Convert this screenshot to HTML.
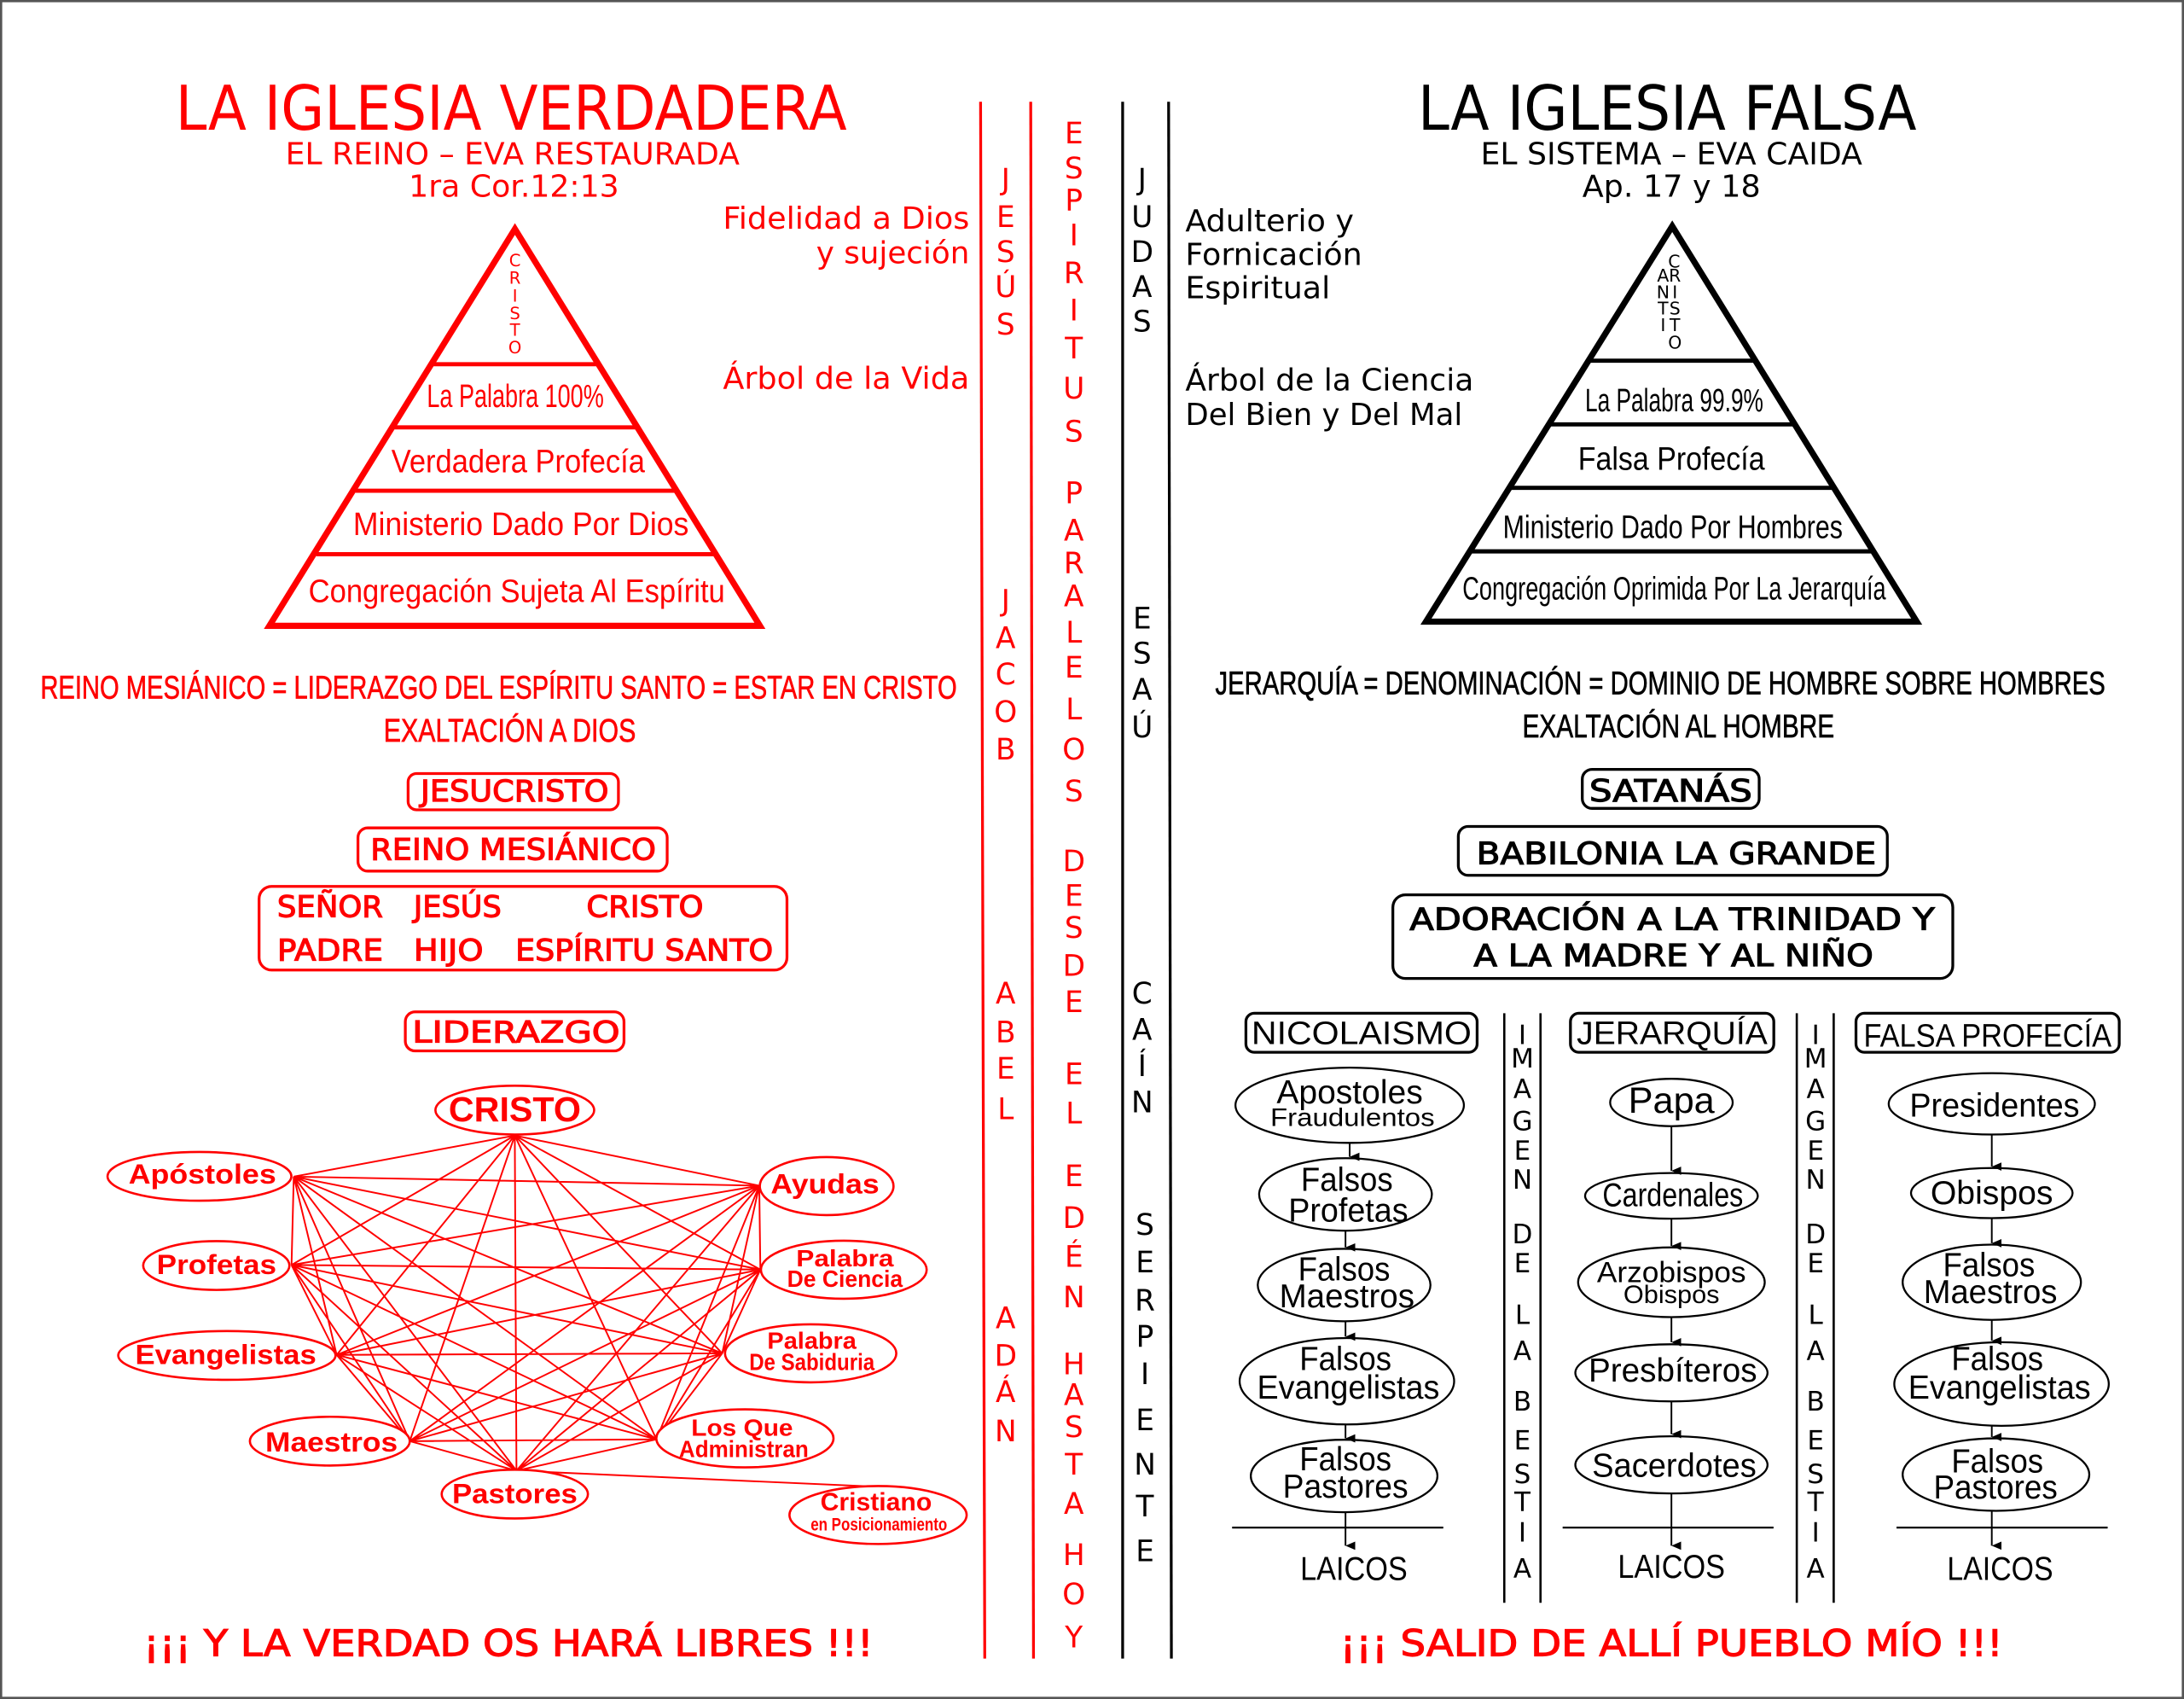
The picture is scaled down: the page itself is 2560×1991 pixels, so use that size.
<!DOCTYPE html>
<html><head><meta charset="utf-8"><style>
html,body{margin:0;padding:0;background:#fff;}
svg{display:block;}
.d{font-family:"DejaVu Sans","Liberation Sans",sans-serif;}
.n{font-family:"Liberation Sans Narrow","Liberation Sans",sans-serif;}
.r{fill:#f00;}
.k{fill:#000;}
.sr{stroke:#f00;stroke-width:0.7;}
.sk{stroke:#000;stroke-width:0.7;}
</style></head><body>
<svg width="2560" height="1991" viewBox="0 0 1568 1219" preserveAspectRatio="none" xmlns="http://www.w3.org/2000/svg">
<defs>
<marker id="ah" markerWidth="8" markerHeight="8" refX="4" refY="7" orient="auto" markerUnits="userSpaceOnUse">
<path d="M1,0 L4,7 L7,0 Z" fill="#000"/>
</marker>
</defs>
<rect x="0" y="0" width="1568" height="1219" fill="#fff"/>
<rect x="0.8" y="0.8" width="1566.4" height="1217.4" fill="none" stroke="#555" stroke-width="1.6"/>

<!-- Titles -->
<text class="d r" x="367" y="93" font-size="44" text-anchor="middle" textLength="482" lengthAdjust="spacingAndGlyphs">LA IGLESIA VERDADERA</text>
<text class="d r" x="368" y="118" font-size="22" text-anchor="middle" textLength="326" lengthAdjust="spacingAndGlyphs">EL REINO – EVA RESTAURADA</text>
<text class="d r" x="369" y="141" font-size="22" text-anchor="middle" textLength="151" lengthAdjust="spacingAndGlyphs">1ra Cor.12:13</text>
<text class="d r" x="696" y="164" font-size="22" text-anchor="end" textLength="177" lengthAdjust="spacingAndGlyphs">Fidelidad a Dios</text>
<text class="d r" x="696" y="189" font-size="22" text-anchor="end" textLength="110" lengthAdjust="spacingAndGlyphs">y sujeción</text>
<text class="d r" x="696" y="279" font-size="22" text-anchor="end" textLength="177" lengthAdjust="spacingAndGlyphs">Árbol de la Vida</text>

<text class="d k" x="1197" y="93" font-size="44" text-anchor="middle" textLength="358" lengthAdjust="spacingAndGlyphs">LA IGLESIA FALSA</text>
<text class="d k" x="1200" y="118" font-size="22" text-anchor="middle" textLength="274" lengthAdjust="spacingAndGlyphs">EL SISTEMA – EVA CAIDA</text>
<text class="d k" x="1200" y="141" font-size="22" text-anchor="middle" textLength="128" lengthAdjust="spacingAndGlyphs">Ap. 17 y 18</text>
<text class="d k" x="851" y="166" font-size="22" textLength="121" lengthAdjust="spacingAndGlyphs">Adulterio y</text>
<text class="d k" x="851" y="190" font-size="22" textLength="127" lengthAdjust="spacingAndGlyphs">Fornicación</text>
<text class="d k" x="851" y="214" font-size="22" textLength="104" lengthAdjust="spacingAndGlyphs">Espiritual</text>
<text class="d k" x="851" y="280" font-size="22" textLength="207" lengthAdjust="spacingAndGlyphs">Árbol de la Ciencia</text>
<text class="d k" x="851" y="305" font-size="22" textLength="199" lengthAdjust="spacingAndGlyphs">Del Bien y Del Mal</text>

<!-- Left pyramid -->
<g stroke="#f00" fill="none">
<polygon points="369.7,164.3 545.6,449 193.4,449" stroke-width="4.4" stroke-linejoin="miter"/>
<line x1="311.3" y1="261.3" x2="428.1" y2="261.3" stroke-width="3"/>
<line x1="283.3" y1="306.6" x2="456.1" y2="306.6" stroke-width="3"/>
<line x1="255.2" y1="352.1" x2="484.2" y2="352.1" stroke-width="3"/>
<line x1="227.1" y1="397.6" x2="512.3" y2="397.6" stroke-width="3"/>
</g>
<g class="d r" font-size="12" text-anchor="middle">
<text x="369.7" y="191">C</text><text x="369.7" y="203.5">R</text><text x="369.7" y="216.5">I</text><text x="369.7" y="229">S</text><text x="369.7" y="241">T</text><text x="369.7" y="253.5">O</text>
</g>
<g class="n r" font-size="23" text-anchor="middle">
<text x="370" y="292" textLength="127" lengthAdjust="spacingAndGlyphs">La Palabra 100%</text>
<text x="372" y="339" textLength="182" lengthAdjust="spacingAndGlyphs">Verdadera Profecía</text>
<text x="374" y="384" textLength="241" lengthAdjust="spacingAndGlyphs">Ministerio Dado Por Dios</text>
<text x="371" y="432" textLength="299" lengthAdjust="spacingAndGlyphs">Congregación Sujeta Al Espíritu</text>
</g>

<!-- Right pyramid -->
<g stroke="#000" fill="none">
<polygon points="1200.6,162.3 1376.1,446 1023.8,446" stroke-width="4.4"/>
<line x1="1140.7" y1="258.8" x2="1260.1" y2="258.8" stroke-width="3"/>
<line x1="1112.5" y1="304.5" x2="1288.5" y2="304.5" stroke-width="3"/>
<line x1="1084.3" y1="350" x2="1316.7" y2="350" stroke-width="3"/>
<line x1="1056.2" y1="395.6" x2="1344.9" y2="395.6" stroke-width="3"/>
</g>
<g class="d k" font-size="12.5" text-anchor="middle">
<text x="1202" y="192">C</text>
<text x="1194" y="202">A</text><text x="1202.5" y="202">R</text>
<text x="1194" y="214">N</text><text x="1202.5" y="214">I</text>
<text x="1194" y="225.5">T</text><text x="1202.5" y="225.5">S</text>
<text x="1194" y="237.5">I</text><text x="1202.5" y="237.5">T</text>
<text x="1202.5" y="250">O</text>
</g>
<g class="n k" font-size="23" text-anchor="middle">
<text x="1202" y="295" textLength="128" lengthAdjust="spacingAndGlyphs">La Palabra 99.9%</text>
<text x="1200" y="337" textLength="134" lengthAdjust="spacingAndGlyphs">Falsa Profecía</text>
<text x="1201" y="386" textLength="244" lengthAdjust="spacingAndGlyphs">Ministerio Dado Por Hombres</text>
<text x="1202" y="430" textLength="304" lengthAdjust="spacingAndGlyphs">Congregación Oprimida Por La Jerarquía</text>
</g>

<!-- Statements -->
<text class="n r sr" x="358" y="501" font-size="23" text-anchor="middle" style="stroke-width:0.4" textLength="658" lengthAdjust="spacingAndGlyphs">REINO MESIÁNICO = LIDERAZGO DEL ESPÍRITU SANTO = ESTAR EN CRISTO</text>
<text class="n r sr" x="366" y="532" font-size="23" text-anchor="middle" style="stroke-width:0.4" textLength="181" lengthAdjust="spacingAndGlyphs">EXALTACIÓN A DIOS</text>
<text class="n k sk" x="1192" y="498" font-size="23" text-anchor="middle" style="stroke-width:0.4" textLength="639" lengthAdjust="spacingAndGlyphs">JERARQUÍA = DENOMINACIÓN = DOMINIO DE HOMBRE SOBRE HOMBRES</text>
<text class="n k sk" x="1205" y="529" font-size="23" text-anchor="middle" style="stroke-width:0.4" textLength="224" lengthAdjust="spacingAndGlyphs">EXALTACIÓN AL HOMBRE</text>

<!-- Left boxes -->
<g fill="none" stroke="#f00" stroke-width="2">
<rect x="293" y="555" width="151" height="26" rx="6"/>
<rect x="257" y="594" width="222" height="31" rx="7"/>
<rect x="186" y="636" width="379" height="60" rx="9"/>
<rect x="291" y="726" width="157" height="28" rx="7"/>
</g>
<g class="d r sr" font-size="21">
<text x="302" y="575" textLength="135" lengthAdjust="spacingAndGlyphs">JESUCRISTO</text>
<text x="266" y="617" textLength="205" lengthAdjust="spacingAndGlyphs">REINO MESIÁNICO</text>
<text x="199" y="658" textLength="76" lengthAdjust="spacingAndGlyphs">SEÑOR</text>
<text x="297" y="658" textLength="63" lengthAdjust="spacingAndGlyphs">JESÚS</text>
<text x="421" y="658" textLength="84" lengthAdjust="spacingAndGlyphs">CRISTO</text>
<text x="199" y="689" textLength="76" lengthAdjust="spacingAndGlyphs">PADRE</text>
<text x="297" y="689" textLength="50" lengthAdjust="spacingAndGlyphs">HIJO</text>
<text x="370" y="689" textLength="185" lengthAdjust="spacingAndGlyphs">ESPÍRITU SANTO</text>
<text x="296" y="748" textLength="149" lengthAdjust="spacingAndGlyphs">LIDERAZGO</text>
</g>

<!-- Right boxes -->
<g fill="none" stroke="#000" stroke-width="2">
<rect x="1136" y="552" width="127" height="28" rx="7"/>
<rect x="1047" y="593" width="308" height="35" rx="7"/>
<rect x="1000" y="642" width="402" height="60" rx="9"/>
</g>
<g class="d k sk" font-size="22">
<text x="1141" y="575" textLength="117" lengthAdjust="spacingAndGlyphs">SATANÁS</text>
<text x="1060" y="620" textLength="287" lengthAdjust="spacingAndGlyphs">BABILONIA LA GRANDE</text>
<text x="1012" y="667" textLength="377" lengthAdjust="spacingAndGlyphs">ADORACIÓN A LA TRINIDAD Y</text>
<text x="1058" y="693" textLength="287" lengthAdjust="spacingAndGlyphs">A LA MADRE Y AL NIÑO</text>
</g>

<!-- Center vertical lines -->
<g stroke-width="2">
<line x1="704" y1="73" x2="707" y2="1190" stroke="#f00"/>
<line x1="740" y1="73" x2="742" y2="1190" stroke="#f00"/>
<line x1="806" y1="73" x2="806" y2="1190" stroke="#000"/>
<line x1="839" y1="73" x2="841" y2="1190" stroke="#000"/>
</g>
<g class="d r" font-size="21" text-anchor="middle">
<text x="722" y="136">J</text><text x="722" y="163">E</text><text x="722" y="188">S</text><text x="722" y="213">Ú</text><text x="722" y="240">S</text>
<text x="722" y="438">J</text><text x="722" y="465">A</text><text x="722" y="491">C</text><text x="722" y="518">O</text><text x="722" y="545">B</text>
<text x="722" y="720">A</text><text x="722" y="748">B</text><text x="722" y="774">E</text><text x="722" y="803">L</text>
<text x="722" y="953">A</text><text x="722" y="980">D</text><text x="722" y="1006">Á</text><text x="722" y="1034">N</text>
</g>
<g class="d r" font-size="21" text-anchor="middle">
<text x="771" y="103">E</text><text x="771" y="128">S</text><text x="771" y="151">P</text><text x="771" y="176">I</text><text x="771" y="203">R</text><text x="771" y="230">I</text><text x="771" y="257">T</text><text x="771" y="286">U</text><text x="771" y="317">S</text>
<text x="771" y="361">P</text><text x="771" y="388">A</text><text x="771" y="411">R</text><text x="771" y="435">A</text><text x="771" y="461">L</text><text x="771" y="486">E</text><text x="771" y="516">L</text><text x="771" y="545">O</text><text x="771" y="575">S</text>
<text x="771" y="625">D</text><text x="771" y="650">E</text><text x="771" y="673">S</text><text x="771" y="700">D</text><text x="771" y="726">E</text>
<text x="771" y="778">E</text><text x="771" y="806">L</text>
<text x="771" y="851">E</text><text x="771" y="881">D</text><text x="771" y="909">É</text><text x="771" y="938">N</text>
<text x="771" y="986">H</text><text x="771" y="1008">A</text><text x="771" y="1031">S</text><text x="771" y="1058">T</text><text x="771" y="1086">A</text>
<text x="771" y="1123">H</text><text x="771" y="1151">O</text><text x="771" y="1182">Y</text>
</g>
<g class="d k" font-size="21" text-anchor="middle">
<text x="820" y="136">J</text><text x="820" y="163">U</text><text x="820" y="188">D</text><text x="820" y="213">A</text><text x="820" y="238">S</text>
<text x="820" y="451">E</text><text x="820" y="476">S</text><text x="820" y="502">A</text><text x="820" y="529">Ú</text>
<text x="820" y="720">C</text><text x="820" y="746">A</text><text x="820" y="772">Í</text><text x="820" y="798">N</text>
<text x="822" y="886">S</text><text x="822" y="913">E</text><text x="822" y="940">R</text><text x="822" y="966">P</text><text x="822" y="993">I</text><text x="822" y="1026">E</text><text x="822" y="1058">N</text><text x="822" y="1088">T</text><text x="822" y="1120">E</text>
</g>

<!-- Network lines -->
<g stroke="#f00" stroke-width="1.2" fill="none">
<path d="M369.6,814.7L210.9,844.2M369.6,814.7L545.1,850.7M369.6,814.7L209.3,907.6M369.6,814.7L545.9,910.9M369.6,814.7L241.7,972.1M369.6,814.7L518.5,971M369.6,814.7L294.2,1034M369.6,814.7L471.3,1032.7M369.6,814.7L370.8,1055.2
M210.9,844.2L545.1,850.7M210.9,844.2L209.3,907.6M210.9,844.2L545.9,910.9M210.9,844.2L241.7,972.1M210.9,844.2L518.5,971M210.9,844.2L294.2,1034M210.9,844.2L471.3,1032.7M210.9,844.2L370.8,1055.2
M545.1,850.7L209.3,907.6M545.1,850.7L545.9,910.9M545.1,850.7L241.7,972.1M545.1,850.7L518.5,971M545.1,850.7L294.2,1034M545.1,850.7L471.3,1032.7M545.1,850.7L370.8,1055.2
M209.3,907.6L545.9,910.9M209.3,907.6L241.7,972.1M209.3,907.6L518.5,971M209.3,907.6L294.2,1034M209.3,907.6L471.3,1032.7M209.3,907.6L370.8,1055.2
M545.9,910.9L241.7,972.1M545.9,910.9L518.5,971M545.9,910.9L294.2,1034M545.9,910.9L471.3,1032.7M545.9,910.9L370.8,1055.2
M241.7,972.1L518.5,971M241.7,972.1L294.2,1034M241.7,972.1L471.3,1032.7M241.7,972.1L370.8,1055.2
M518.5,971L294.2,1034M518.5,971L471.3,1032.7M518.5,971L370.8,1055.2
M294.2,1034L471.3,1032.7M294.2,1034L370.8,1055.2M471.3,1032.7L370.8,1055.2
M370.8,1055.2L643.5,1067.3"/>
</g>
<g stroke="#f00" stroke-width="1.6" fill="#fff">
<ellipse cx="369.6" cy="796.5" rx="57" ry="17.5"/>
<ellipse cx="143.2" cy="844" rx="66" ry="17.5"/>
<ellipse cx="593.5" cy="851" rx="48" ry="20.8"/>
<ellipse cx="155.3" cy="908" rx="52.5" ry="17.5"/>
<ellipse cx="605.8" cy="911" rx="59.5" ry="20.8"/>
<ellipse cx="162.9" cy="972.5" rx="78" ry="17.5"/>
<ellipse cx="582" cy="971" rx="61.5" ry="20.8"/>
<ellipse cx="236.8" cy="1034" rx="57.4" ry="17.5"/>
<ellipse cx="534.8" cy="1032" rx="63.6" ry="20.8"/>
<ellipse cx="369.6" cy="1072" rx="52.5" ry="17.5"/>
<ellipse cx="630.4" cy="1087" rx="63.6" ry="20.8"/>
</g>
<g class="n r" font-weight="bold" text-anchor="middle">
<text x="369.6" y="804.4" font-size="25" textLength="95" lengthAdjust="spacingAndGlyphs">CRISTO</text>
<text x="145.3" y="849.2" font-size="20" textLength="106" lengthAdjust="spacingAndGlyphs">Apóstoles</text>
<text x="592.3" y="856.2" font-size="20" textLength="78" lengthAdjust="spacingAndGlyphs">Ayudas</text>
<text x="155.5" y="914.2" font-size="20" textLength="86" lengthAdjust="spacingAndGlyphs">Profetas</text>
<text x="606.6" y="908.7" font-size="17" textLength="70" lengthAdjust="spacingAndGlyphs">Palabra</text>
<text x="606.6" y="923.2" font-size="17" textLength="83" lengthAdjust="spacingAndGlyphs">De Ciencia</text>
<text x="162.1" y="978.7" font-size="20" textLength="130" lengthAdjust="spacingAndGlyphs">Evangelistas</text>
<text x="582.9" y="967.7" font-size="17" textLength="64" lengthAdjust="spacingAndGlyphs">Palabra</text>
<text x="582.9" y="983" font-size="17" textLength="90" lengthAdjust="spacingAndGlyphs">De Sabiduria</text>
<text x="238" y="1041.4" font-size="20" textLength="95" lengthAdjust="spacingAndGlyphs">Maestros</text>
<text x="532.8" y="1030" font-size="17" textLength="73" lengthAdjust="spacingAndGlyphs">Los Que</text>
<text x="534" y="1045.4" font-size="17" textLength="93" lengthAdjust="spacingAndGlyphs">Administran</text>
<text x="369.6" y="1078.6" font-size="20" textLength="90" lengthAdjust="spacingAndGlyphs">Pastores</text>
<text x="629" y="1083.7" font-size="18" textLength="80" lengthAdjust="spacingAndGlyphs">Cristiano</text>
<text x="631" y="1098" font-size="13" textLength="98" lengthAdjust="spacingAndGlyphs">en Posicionamiento</text>
</g>

<!-- Right columns headers -->
<g fill="none" stroke="#000" stroke-width="2">
<rect x="894.5" y="727" width="166" height="28" rx="6"/>
<rect x="1127.5" y="727" width="146" height="28" rx="6"/>
<rect x="1332.5" y="727" width="189" height="28" rx="6"/>
</g>
<g class="n k" font-size="23" text-anchor="middle">
<text x="977.5" y="749" textLength="158" lengthAdjust="spacingAndGlyphs">NICOLAISMO</text>
<text x="1200.5" y="749" textLength="137" lengthAdjust="spacingAndGlyphs">JERARQUÍA</text>
<text x="1427" y="751" textLength="178" lengthAdjust="spacingAndGlyphs">FALSA PROFECÍA</text>
</g>
<g stroke="#000" stroke-width="1.6">
<line x1="1080" y1="727" x2="1080" y2="1150"/><line x1="1106" y1="727" x2="1106" y2="1150"/>
<line x1="1290" y1="727" x2="1290" y2="1150"/><line x1="1316.5" y1="727" x2="1316.5" y2="1150"/>
</g>
<g class="d k" font-size="19" text-anchor="middle">
<text x="1093" y="749">I</text><text x="1093" y="766">M</text><text x="1093" y="788">A</text><text x="1093" y="811">G</text><text x="1093" y="832">E</text><text x="1093" y="853">N</text><text x="1093" y="892">D</text><text x="1093" y="913">E</text><text x="1093" y="950">L</text><text x="1093" y="976">A</text><text x="1093" y="1012">B</text><text x="1093" y="1040">E</text><text x="1093" y="1064">S</text><text x="1093" y="1084">T</text><text x="1093" y="1106">I</text><text x="1093" y="1132">A</text>
<text x="1303.5" y="749">I</text><text x="1303.5" y="766">M</text><text x="1303.5" y="788">A</text><text x="1303.5" y="811">G</text><text x="1303.5" y="832">E</text><text x="1303.5" y="853">N</text><text x="1303.5" y="892">D</text><text x="1303.5" y="913">E</text><text x="1303.5" y="950">L</text><text x="1303.5" y="976">A</text><text x="1303.5" y="1012">B</text><text x="1303.5" y="1040">E</text><text x="1303.5" y="1064">S</text><text x="1303.5" y="1084">T</text><text x="1303.5" y="1106">I</text><text x="1303.5" y="1132">A</text>
</g>

<g stroke="#000" stroke-width="1.4">
<line x1="884.6" y1="1096" x2="1036.2" y2="1096"/>
<line x1="1121.9" y1="1096" x2="1273.3" y2="1096"/>
<line x1="1361.6" y1="1096" x2="1513.2" y2="1096"/>
</g>
<g stroke="#000" stroke-width="1.4" fill="#fff">
<ellipse cx="969" cy="793" rx="82" ry="27"/>
<ellipse cx="966" cy="857" rx="62" ry="26"/>
<ellipse cx="965" cy="922" rx="62" ry="26"/>
<ellipse cx="967" cy="991" rx="77" ry="31"/>
<ellipse cx="965" cy="1059" rx="67" ry="26"/>
<ellipse cx="1200" cy="791" rx="44" ry="17"/>
<ellipse cx="1200" cy="858" rx="62" ry="16.4"/>
<ellipse cx="1200" cy="920" rx="67" ry="25"/>
<ellipse cx="1200" cy="985" rx="69" ry="20.5"/>
<ellipse cx="1200" cy="1051" rx="69" ry="20.5"/>
<ellipse cx="1430" cy="792" rx="74" ry="22"/>
<ellipse cx="1430" cy="856" rx="58" ry="18"/>
<ellipse cx="1430" cy="920" rx="64" ry="27"/>
<ellipse cx="1437" cy="993" rx="77" ry="30"/>
<ellipse cx="1433" cy="1058" rx="67" ry="26"/>
</g>
<!-- arrows (after ellipses so heads are visible) -->
<g stroke="#000" stroke-width="1.2" marker-end="url(#ah)">
<line x1="969" y1="820" x2="969" y2="830"/><line x1="966" y1="883" x2="966" y2="895"/><line x1="966" y1="948" x2="966" y2="959"/><line x1="966" y1="1022" x2="966" y2="1032"/><line x1="966" y1="1085" x2="966" y2="1109"/>
<line x1="1200" y1="808" x2="1200" y2="840"/><line x1="1200" y1="874" x2="1200" y2="894"/><line x1="1200" y1="945" x2="1200" y2="963"/><line x1="1200" y1="1005" x2="1200" y2="1029"/><line x1="1200" y1="1072" x2="1200" y2="1109"/>
<line x1="1430" y1="814" x2="1430" y2="837"/><line x1="1430" y1="874" x2="1430" y2="892"/><line x1="1430" y1="947" x2="1430" y2="962"/><line x1="1430" y1="1023" x2="1430" y2="1031"/><line x1="1430" y1="1084" x2="1430" y2="1109"/>
</g>
<g class="n k" font-size="24" text-anchor="middle">
<text x="969" y="791.6" textLength="105" lengthAdjust="spacingAndGlyphs">Apostoles</text>
<text x="971" y="808" font-size="18" textLength="118" lengthAdjust="spacingAndGlyphs">Fraudulentos</text>
<text x="967" y="854.5" textLength="66" lengthAdjust="spacingAndGlyphs">Falsos</text>
<text x="968" y="876.4" textLength="86" lengthAdjust="spacingAndGlyphs">Profetas</text>
<text x="965" y="918.8" textLength="66" lengthAdjust="spacingAndGlyphs">Falsos</text>
<text x="967" y="938" textLength="97" lengthAdjust="spacingAndGlyphs">Maestros</text>
<text x="966" y="983" textLength="66" lengthAdjust="spacingAndGlyphs">Falsos</text>
<text x="968" y="1003.5" textLength="131" lengthAdjust="spacingAndGlyphs">Evangelistas</text>
<text x="966" y="1055" textLength="66" lengthAdjust="spacingAndGlyphs">Falsos</text>
<text x="966" y="1074.5" textLength="90" lengthAdjust="spacingAndGlyphs">Pastores</text>
<text x="972" y="1133.5" textLength="77" lengthAdjust="spacingAndGlyphs">LAICOS</text>

<text x="1200" y="798.5" font-size="26" textLength="62" lengthAdjust="spacingAndGlyphs">Papa</text>
<text x="1201" y="865.5" textLength="101" lengthAdjust="spacingAndGlyphs">Cardenales</text>
<text x="1200" y="920" font-size="21" textLength="107" lengthAdjust="spacingAndGlyphs">Arzobispos</text>
<text x="1200" y="935" font-size="18" textLength="69" lengthAdjust="spacingAndGlyphs">Obispos</text>
<text x="1201" y="991.2" textLength="121" lengthAdjust="spacingAndGlyphs">Presbíteros</text>
<text x="1202" y="1059.5" textLength="118" lengthAdjust="spacingAndGlyphs">Sacerdotes</text>
<text x="1200" y="1132" textLength="77" lengthAdjust="spacingAndGlyphs">LAICOS</text>

<text x="1432" y="801.2" textLength="122" lengthAdjust="spacingAndGlyphs">Presidentes</text>
<text x="1430" y="864" textLength="88" lengthAdjust="spacingAndGlyphs">Obispos</text>
<text x="1428" y="915.5" textLength="66" lengthAdjust="spacingAndGlyphs">Falsos</text>
<text x="1429" y="935" textLength="96" lengthAdjust="spacingAndGlyphs">Maestros</text>
<text x="1434" y="983" textLength="66" lengthAdjust="spacingAndGlyphs">Falsos</text>
<text x="1435.5" y="1003.5" textLength="131" lengthAdjust="spacingAndGlyphs">Evangelistas</text>
<text x="1434" y="1056.6" textLength="66" lengthAdjust="spacingAndGlyphs">Falsos</text>
<text x="1432.7" y="1075" textLength="89" lengthAdjust="spacingAndGlyphs">Pastores</text>
<text x="1436" y="1133.5" textLength="76" lengthAdjust="spacingAndGlyphs">LAICOS</text>
</g>

<!-- Bottom slogans -->
<text class="d r sr" x="365" y="1188" font-size="26" text-anchor="middle" textLength="524" lengthAdjust="spacingAndGlyphs">¡¡¡ Y LA VERDAD OS HARÁ LIBRES !!!</text>
<text class="d r sr" x="1200" y="1188" font-size="26" text-anchor="middle" textLength="476" lengthAdjust="spacingAndGlyphs">¡¡¡ SALID DE ALLÍ PUEBLO MÍO !!!</text>
</svg>
</body></html>
